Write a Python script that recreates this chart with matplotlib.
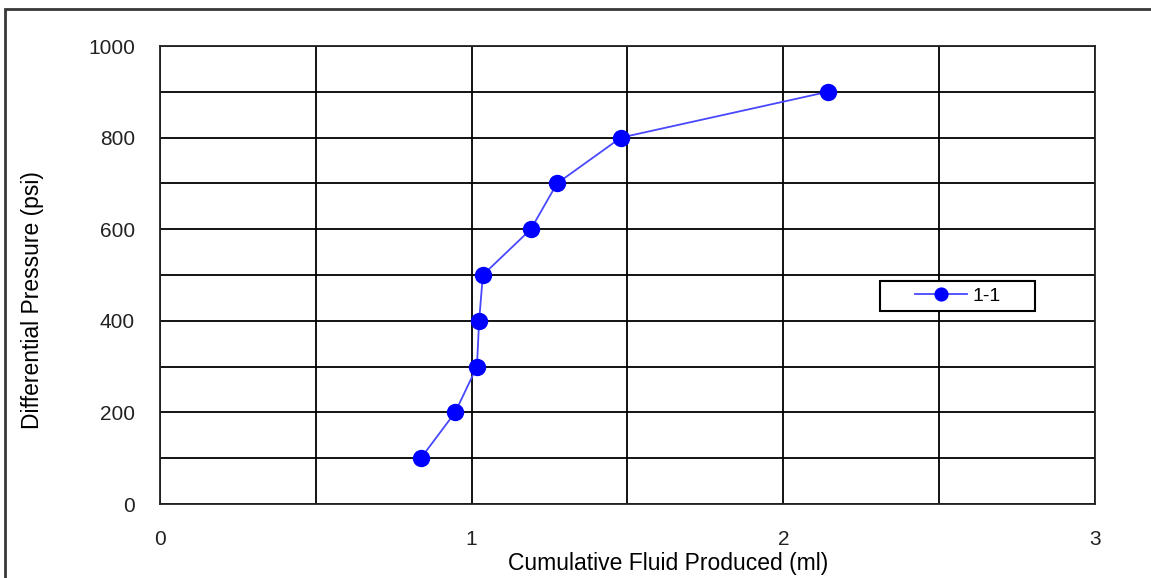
import matplotlib.pyplot as plt
from matplotlib.patches import Rectangle
from matplotlib.ticker import MultipleLocator

plt.rcParams['font.family'] = ['Liberation Sans', 'DejaVu Sans']

# cumulative produced fluid vs. differential pressure, sample 1-1
fluid_ml = [0.837, 0.947, 1.017, 1.024, 1.036, 1.190, 1.274, 1.479, 2.143]
pressure_psi = [100, 200, 300, 400, 500, 600, 700, 800, 900]
series_name = '1-1'

fig = plt.figure(figsize=(11.51, 5.78), dpi=100)
ax = fig.add_axes([0.139, 0.128, 0.8123, 0.7924])

# outer chart frame
fig.patches.append(Rectangle((5 / 1151, -0.05), 1.1, (578 - 9) / 578 + 0.05,
                             transform=fig.transFigure, fill=False,
                             edgecolor='#383838', linewidth=2, zorder=0))

ax.plot(fluid_ml, pressure_psi, color='#4848ff', linewidth=1.3,
        marker='o', markersize=11.5, markerfacecolor='#0000ff',
        markeredgecolor='#0000ff', label=series_name, zorder=3)

ax.set_xlim(0, 3)
ax.set_ylim(0, 1000)
ax.set_xticks([0, 1, 2, 3])
ax.set_yticks(range(0, 1001, 200))
ax.xaxis.set_minor_locator(MultipleLocator(0.5))
ax.yaxis.set_minor_locator(MultipleLocator(100))
ax.grid(True, which='both', color='black', linewidth=1.3)
ax.tick_params(which='both', length=0, labelsize=15, colors='#222222')
ax.tick_params(axis='x', pad=19)
ax.tick_params(axis='y', pad=18)
for s in ax.spines.values():
    s.set_color('#222222')
    s.set_linewidth(1.3)

ax.set_xlabel('Cumulative Fluid Produced (ml)', fontsize=16.5)
ax.set_ylabel('Differential Pressure (psi)', fontsize=16.5)
ax.xaxis.set_label_coords(0.544, -0.104)
ax.yaxis.set_label_coords(-0.124, 0.445)

# legend box
box = (0.770, 0.421, 0.166, 0.066)
ax.add_patch(Rectangle(box[:2], box[2], box[3], transform=ax.transAxes,
                       facecolor='white', edgecolor='black', linewidth=1.5,
                       zorder=4))
leg = ax.legend(loc='center', bbox_to_anchor=box, fontsize=14,
                frameon=False, handlelength=2.7, handletextpad=0.25,
                markerscale=0.8, borderpad=0)
leg.set_zorder(5)

fig.savefig('out.png', dpi=100)
